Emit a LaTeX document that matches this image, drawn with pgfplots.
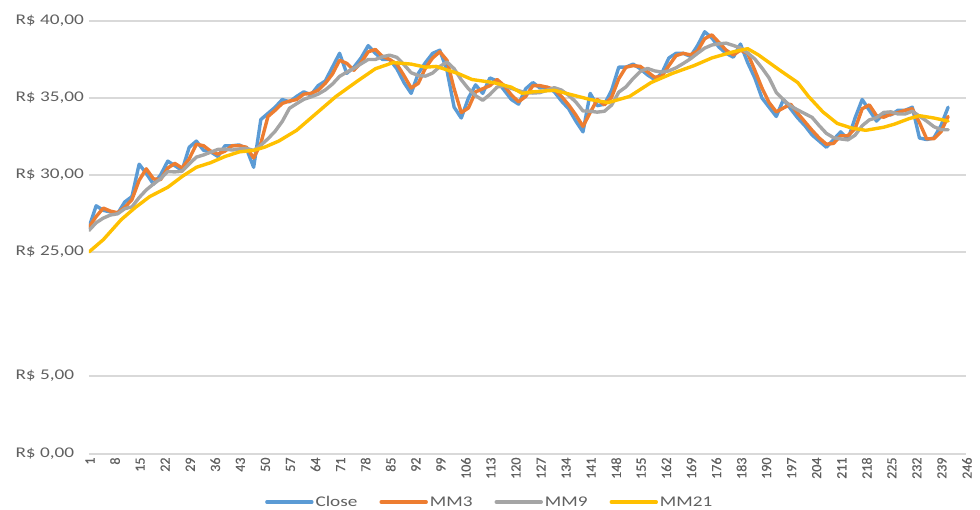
\documentclass[border=0pt]{standalone}
\usepackage{pgfplots}
\pgfplotsset{compat=1.18}
\usepackage{pgfplotstable}
\usepackage{fontspec}
\setmainfont{Carlito}[FakeStretch=1.3]
\newfontfamily\ticknumfont{Carlito}[FakeBold=0.6]

\definecolor{closeblue}{HTML}{5B9BD5}
\definecolor{mmorange}{HTML}{ED7D31}
\definecolor{mmgray}{HTML}{A5A5A5}
\definecolor{mmyellow}{HTML}{FFC000}
\definecolor{gridgray}{HTML}{D9D9D9}
\definecolor{labelgray}{HTML}{606060}

% closing price with 3- and 9-period moving averages (every second session)
\pgfplotstableread{
i close mm3 mm9
1 26.6 26.6 26.4
3 28.0 27.3 26.9
5 27.7 27.85 27.2
7 27.6 27.65 27.4
9 27.5 27.55 27.48
11 28.25 27.9 27.81
13 28.6 28.4 27.93
15 30.7 29.65 28.53
17 30.1 30.4 29.03
19 29.4 29.75 29.41
21 30.0 29.7 29.76
23 30.9 30.45 30.22
25 30.6 30.75 30.2
27 30.3 30.45 30.24
29 31.8 31.05 30.72
31 32.2 32.0 31.16
33 31.6 31.9 31.3
35 31.5 31.55 31.48
37 31.2 31.35 31.66
39 31.9 31.55 31.68
41 31.9 31.9 31.62
43 31.95 31.9 31.69
45 31.7 31.8 31.73
47 30.5 31.1 31.59
49 33.6 32.05 31.93
51 34.0 33.8 32.35
53 34.4 34.2 32.84
55 34.9 34.65 33.48
57 34.75 34.8 34.33
59 35.1 34.9 34.63
61 35.4 35.25 34.91
63 35.2 35.3 35.07
65 35.8 35.5 35.25
67 36.1 35.95 35.52
69 37.0 36.55 35.9
71 37.9 37.45 36.4
73 36.6 37.25 36.68
75 37.0 36.8 36.92
77 37.6 37.3 37.22
79 38.4 38.0 37.5
81 37.9 38.15 37.5
83 37.5 37.7 37.68
85 37.5 37.5 37.78
87 36.9 37.2 37.64
89 36.0 36.45 37.16
91 35.3 35.65 36.64
93 36.6 35.95 36.46
95 37.3 36.95 36.42
97 37.9 37.6 36.62
99 38.1 38.0 37.04
101 36.8 37.45 37.34
103 34.4 35.6 36.9
105 33.7 34.05 36.18
107 35.0 34.35 35.6
109 35.85 35.4 35.15
111 35.3 35.6 34.85
113 36.3 35.8 35.23
115 36.1 36.2 35.71
117 35.5 35.8 35.81
119 34.9 35.2 35.62
121 34.6 34.75 35.48
123 35.6 35.1 35.34
125 36.0 35.8 35.32
127 35.65 35.8 35.35
129 35.7 35.7 35.51
131 35.4 35.55 35.67
133 34.8 35.1 35.51
135 34.3 34.55 35.17
137 33.5 33.9 34.74
139 32.8 33.15 34.16
141 35.3 34.05 34.14
143 34.5 34.9 34.08
145 34.6 34.55 34.14
147 35.5 35.05 34.54
149 37.0 36.25 35.38
151 37.0 37.0 35.72
153 37.2 37.1 36.26
155 36.9 37.05 36.72
157 36.5 36.7 36.92
159 36.2 36.35 36.76
161 36.6 36.4 36.68
163 37.6 37.1 36.76
165 37.9 37.75 36.96
167 37.9 37.9 37.24
169 37.7 37.8 37.54
171 38.4 38.05 37.9
173 39.3 38.85 38.24
175 38.9 39.1 38.44
177 38.3 38.6 38.52
179 37.9 38.1 38.56
181 37.65 37.8 38.41
183 38.5 38.1 38.25
185 37.3 37.9 37.93
187 36.3 36.8 37.53
189 35.0 35.65 36.95
191 34.4 34.7 36.3
193 33.8 34.1 35.36
195 34.9 34.35 34.88
197 34.3 34.6 34.48
199 33.7 34.0 34.22
201 33.2 33.45 33.98
203 32.6 32.9 33.74
205 32.2 32.4 33.2
207 31.8 32.0 32.7
209 32.3 32.05 32.42
211 32.8 32.55 32.34
213 32.3 32.55 32.28
215 33.7 33.0 32.58
217 34.9 34.3 33.2
219 34.2 34.55 33.58
221 33.5 33.85 33.72
223 34.0 33.75 34.06
225 33.9 33.95 34.1
227 34.2 34.05 33.96
229 34.2 34.2 33.96
231 34.4 34.3 34.14
233 32.4 33.4 33.82
235 32.3 32.35 33.5
237 32.4 32.35 33.14
239 33.2 32.8 32.94
241 34.4 33.8 32.94
}\closedata

% 21-period moving average
\pgfplotstableread{
i mm21
1 25.0
5 25.8
10 27.1
14 27.9
18 28.6
23 29.2
27 29.9
31 30.5
35 30.8
39 31.2
43 31.5
47 31.6
50 31.8
54 32.2
59 32.9
64 33.9
70 35.1
76 36.1
81 36.9
86 37.3
91 37.2
95 37.0
98 37.05
104 36.6
108 36.2
114 36.0
119 35.7
122 35.3
125 35.4
131 35.5
136 35.2
141 34.9
146 34.7
152 35.1
158 36.0
164 36.6
170 37.1
175 37.6
181 38.0
185 38.2
188 37.8
194 36.8
199 36.0
202 35.1
206 34.1
210 33.35
214 33.05
218 32.9
223 33.1
226 33.3
230 33.65
233 33.85
237 33.7
241 33.5
}\mmlongdata

\begin{document}
\begin{tikzpicture}
\useasboundingbox (-89pt,-56pt) rectangle (891pt,454pt);
\begin{axis}[
  at={(0pt,0pt)}, anchor=south west,
  scale only axis, width=877pt, height=433pt,
  xmin=1, xmax=246, ymin=11.88, ymax=40,
  xtick={1,8,...,246},
  ytick={11.88,16.95,25,30,35,40},
  yticklabels={{R\$ 0,00},{R\$ 5,00},{R\$ 25,00},{R\$ 30,00},{R\$ 35,00},{R\$ 40,00}},
  ymajorgrids, grid style={gridgray, line width=1.2pt},
  axis line style={draw=none},
  major tick length=0pt,
  /pgf/number format/assume math mode=true,
  tick label style={text=labelgray},
  yticklabel style={font=\fontsize{14.8}{17}\selectfont, anchor=west, xshift=-77pt},
  xticklabel style={font=\ticknumfont\fontsize{14}{16}\selectfont, rotate=90, anchor=east, yshift=-1pt},
  legend style={at={(0.457,-0.111)}, anchor=center, draw=none, fill=none,
    font=\fontsize{14.8}{17}\selectfont, text=labelgray, inner sep=0pt,
    /tikz/every even column/.append style={column sep=20pt}},
  legend columns=4,
  legend image code/.code={\draw[#1] (0pt,0pt) -- (45pt,0pt);},
  every axis plot/.append style={line width=3.4pt, line join=round, line cap=round},
]
\addplot[closeblue] table[x=i, y=close] {\closedata};
\addlegendentry{Close}
\addplot[mmorange] table[x=i, y=mm3] {\closedata};
\addlegendentry{MM3}
\addplot[mmgray] table[x=i, y=mm9] {\closedata};
\addlegendentry{MM9}
\addplot[mmyellow] table[x=i, y=mm21] {\mmlongdata};
\addlegendentry{MM21}
\end{axis}
\end{tikzpicture}
\end{document}
